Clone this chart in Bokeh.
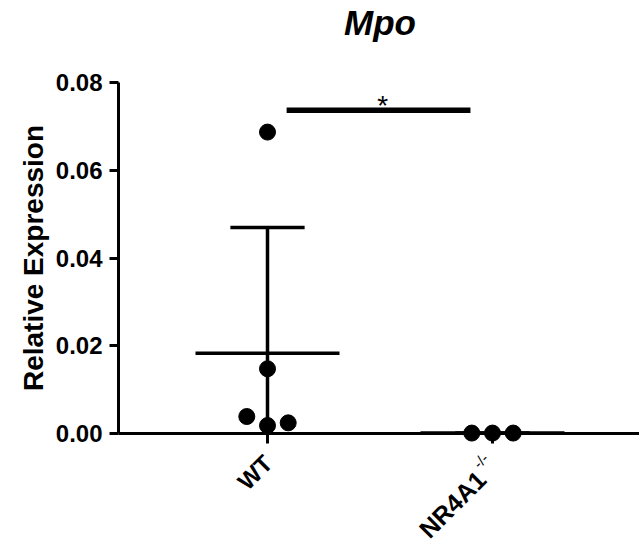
import math
import numpy as np
from bokeh.plotting import figure
from bokeh.models import Range1d, FixedTicker, PrintfTickFormatter
from bokeh.core.properties import value
from bokeh.embed import file_html
from bokeh.resources import INLINE

# ---- data ----
title_text = "Mpo"
y_axis_label = "Relative Expression"
group_names = ["WT", "NR4A1"]
group_superscripts = ["", "-/-"]
group_positions = [1, 2]
wt_values = [0.0687, 0.01475, 0.00387, 0.00182, 0.00243]
wt_jitter = [0.0, 0.0, -0.092, 0.0, 0.092]
ko_values = [0.0001, 0.0001, 0.0001]
ko_jitter = [-0.092, 0.0, 0.092]
y_ticks = [0.0, 0.02, 0.04, 0.06, 0.08]
significance_label = "*"
significance_level = 0.0737

FONT = "Liberation Sans"
LW = 3.5

# layout (screen) constants
W, H = 639, 543
PX_PER_X = 225.0
PX_PER_Y = 4387.5
X_LEFT = -0.18667
Y_BOTTOM = -0.02507
Y_AXIS_AT = 0.33778

p = figure(width=W, height=H,
           x_range=Range1d(X_LEFT, X_LEFT + W / PX_PER_X),
           y_range=Range1d(Y_BOTTOM, Y_BOTTOM + H / PX_PER_Y),
           output_backend="svg", toolbar_location=None,
           min_border_left=0, min_border_right=0,
           min_border_top=0, min_border_bottom=0)
p.title.text = ""
p.outline_line_color = None
p.xgrid.visible = False
p.ygrid.visible = False
p.background_fill_color = "white"
p.border_fill_color = "white"

groups_values = [wt_values, ko_values]
groups_jitter = [wt_jitter, ko_jitter]
for gx, vals, jit in zip(group_positions, groups_values, groups_jitter):
    m = float(np.mean(vals))
    sd = float(np.std(vals, ddof=1))
    p.segment(x0=[gx - 0.32], y0=[m], x1=[gx + 0.32], y1=[m],
              line_width=LW, line_color="black")
    p.segment(x0=[gx], y0=[max(m - sd, 0.0)], x1=[gx], y1=[m + sd],
              line_width=LW, line_color="black")
    p.segment(x0=[gx - 0.165], y0=[m + sd], x1=[gx + 0.165], y1=[m + sd],
              line_width=LW, line_color="black")
    xs = [gx + j for j in jit]
    p.scatter(xs, vals, size=16, fill_color="black", line_color="black")

# significance bar
sx0 = group_positions[0] + 0.085
sx1 = group_positions[1] - 0.098
p.segment(x0=[sx0], y0=[significance_level], x1=[sx1], y1=[significance_level],
          line_width=5.5, line_color="black")
p.text(x=[(sx0 + sx1) / 2 + 0.018], y=[significance_level], text=[significance_label],
       text_align="center", text_baseline="alphabetic", y_offset=-5,
       text_font=value(FONT), text_font_size="28px", text_color="black")

# axes (fixed inside the full-canvas frame)
yax = p.yaxis[0]
yax.fixed_location = Y_AXIS_AT
yax.ticker = FixedTicker(ticks=y_ticks)
yax.formatter = PrintfTickFormatter(format="%.2f")
yax.bounds = (0, 0.08)
yax.axis_label = y_axis_label
yax.axis_label_text_font = FONT
yax.axis_label_text_font_style = "bold"
yax.axis_label_text_font_size = "28px"
yax.axis_label_text_color = "black"
yax.axis_label_standoff = 4
yax.major_label_text_font = FONT
yax.major_label_text_font_style = "bold"
yax.major_label_text_font_size = "24px"
yax.major_label_text_color = "black"
yax.major_label_standoff = 7
yax.minor_tick_line_color = None
yax.major_tick_in = 0
yax.major_tick_out = 9
yax.major_tick_line_width = 3
yax.axis_line_width = 3

xax = p.xaxis[0]
xax.fixed_location = 0
xax.bounds = (Y_AXIS_AT, X_LEFT + W / PX_PER_X)
xax.ticker = FixedTicker(ticks=group_positions)
xax.major_label_overrides = {1: "", 2: ""}
xax.minor_tick_line_color = None
xax.major_tick_in = 0
xax.major_tick_out = 10
xax.major_tick_line_width = 3
xax.axis_line_width = 3

# x category labels (rotated); text glyph offsets are screen px, +y down
ang = math.pi / 4
for gx, name, sup in zip(group_positions, group_names, group_superscripts):
    if sup:
        p.text(x=[gx], y=[0], text=[name], angle=ang,
               text_align="right", text_baseline="top",
               x_offset=-21, y_offset=32,
               text_font=value(FONT), text_font_style="bold",
               text_font_size="25px", text_color="black")
        p.text(x=[gx], y=[0], text=[sup], angle=ang,
               text_align="left", text_baseline="top",
               x_offset=-23, y_offset=26,
               text_font=value(FONT), text_font_size="15px",
               text_color="black")
    else:
        p.text(x=[gx], y=[0], text=[name], angle=ang,
               text_align="right", text_baseline="top",
               x_offset=-9, y_offset=16,
               text_font=value(FONT), text_font_style="bold",
               text_font_size="24px", text_color="black")

# title, centred between the two groups
p.text(x=[float(np.mean(group_positions))], y=[0.08], text=[title_text],
       text_align="center", text_baseline="alphabetic", y_offset=-60,
       text_font=value(FONT), text_font_style="bold italic",
       text_font_size="35px", text_color="black")

open("out.html", "w").write(file_html(p, INLINE))
